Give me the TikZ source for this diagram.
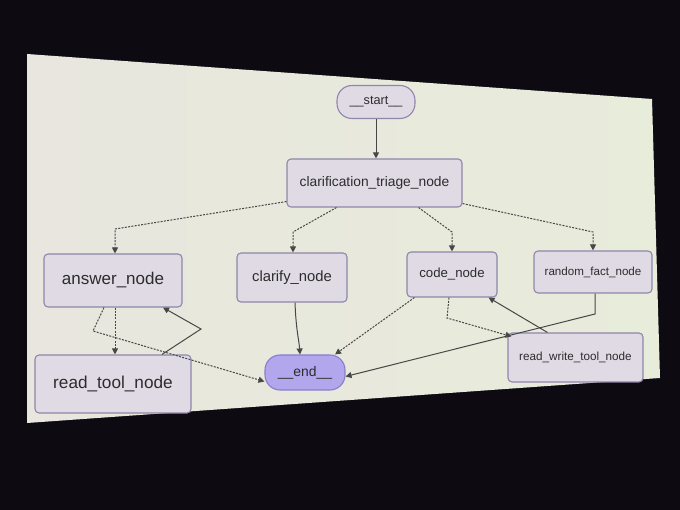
\documentclass[tikz,border=0pt]{standalone}
\usepackage{fontspec}
\setmainfont{Liberation Sans}
\usetikzlibrary{arrows.meta,calc}
\definecolor{bgdark}{HTML}{0D0B11}
\definecolor{scrL}{HTML}{E8E6DE}
\definecolor{scrR}{HTML}{E8ECDB}
\definecolor{nodefill}{HTML}{DFDAE4}
\definecolor{nodeedge}{HTML}{8F86AA}
\definecolor{endfill}{HTML}{B2A6EC}
\definecolor{endedge}{HTML}{8A7DCC}
\definecolor{txt}{HTML}{2C2C2C}
\definecolor{edgecol}{HTML}{474747}
\tikzset{
  box/.style={draw=nodeedge, fill=nodefill, line width=1.1pt, rounded corners=4pt, inner sep=0pt, text=txt},
  pill/.style={box, rounded corners=15pt},
  endpill/.style={pill, fill=endfill, draw=endedge},
  solidedge/.style={draw=edgecol, line width=1pt, -{Triangle[length=6pt,width=6pt]}},
  dotedge/.style={draw=edgecol, line width=1pt, dash pattern=on 2pt off 1.3pt, -{Triangle[length=6pt,width=6pt]}}
}
\begin{document}
\begin{tikzpicture}[x=1pt,y=-1pt]
\useasboundingbox (0,0) rectangle (680,510);
\fill[bgdark] (0,0) rectangle (680,510);
\shade[left color=scrL, right color=scrR] (27,54) -- (652,99) -- (660,378) -- (27,423) -- cycle;

\node[pill, minimum width=78pt, minimum height=33pt, font=\fontsize{12.7}{14}\selectfont] (start) at (376,102) {\_\_start\_\_};
\node[box, minimum width=175pt, minimum height=48pt, font=\fontsize{13.8}{16}\selectfont] (clar) at (374.5,183) {clarification\_triage\_node};
\node[box, minimum width=138pt, minimum height=53pt, font=\fontsize{17}{19}\selectfont] (answer) at (113,280.5) {answer\_node};
\node[box, minimum width=110pt, minimum height=49pt, font=\fontsize{14.8}{17}\selectfont] (clarify) at (292,277.5) {clarify\_node};
\node[box, minimum width=90pt, minimum height=45pt, font=\fontsize{13.2}{15}\selectfont] (code) at (452,274.5) {code\_node};
\node[box, minimum width=118pt, minimum height=42pt, font=\fontsize{11.6}{14}\selectfont] (random) at (593,272) {random\_fact\_node};
\node[box, minimum width=156pt, minimum height=58pt, font=\fontsize{17.2}{19}\selectfont] (readtool) at (113,384) {read\_tool\_node};
\node[endpill, minimum width=80pt, minimum height=35pt, font=\fontsize{13.9}{16}\selectfont] (end) at (305,372.5) {\_\_end\_\_};
\node[box, minimum width=135pt, minimum height=49pt, font=\fontsize{11.7}{14}\selectfont] (rw) at (575.5,357.5) {read\_write\_tool\_node};

% start -> clarification
\draw[solidedge] (start.south) -- (start.south |- clar.north);
% clarification -> branches (dotted)
\draw[dotedge] ([yshift=6pt]clar.south west) -- (115,229) -- (115,0 |- answer.north);
\draw[dotedge] ([xshift=50pt]clar.south west) -- (293,232) -- (293,0 |- clarify.north);
\draw[dotedge] ([xshift=-44pt]clar.south east) -- (452,232) -- (code.north);
\draw[dotedge] ([yshift=4pt]clar.south east) -- (593,232) -- (593,0 |- random.north);
% answer -> read_tool, answer -> end
\draw[dotedge] (115,0 |- answer.south) -- (115,0 |- readtool.north);
\draw[dotedge] ([xshift=-9pt]answer.south) -- (93,331) -- ([yshift=-9pt]end.west);
% read_tool -> answer
\draw[solidedge] (162,0 |- readtool.north) -- (201,329) -- (163,0 |- answer.south);
% clarify -> end
\draw[solidedge] ([xshift=3pt]clarify.south) .. controls (296,330) and (299,340) .. ([xshift=-5pt]end.north);
% code -> end, code -> read_write
\draw[dotedge] ([xshift=8pt]code.south west) -- ([xshift=30pt]end.north);
\draw[dotedge] ([xshift=-3pt]code.south) -- (447,318) -- ([xshift=4pt,yshift=-4pt]rw.north west);
% read_write -> code
\draw[solidedge] ([xshift=40pt]rw.north west) -- ([xshift=-9pt]code.south east);
% random -> end
\draw[solidedge] ([xshift=2pt]random.south) -- (595,314) -- ([yshift=-4pt]end.east);
\end{tikzpicture}
\end{document}
